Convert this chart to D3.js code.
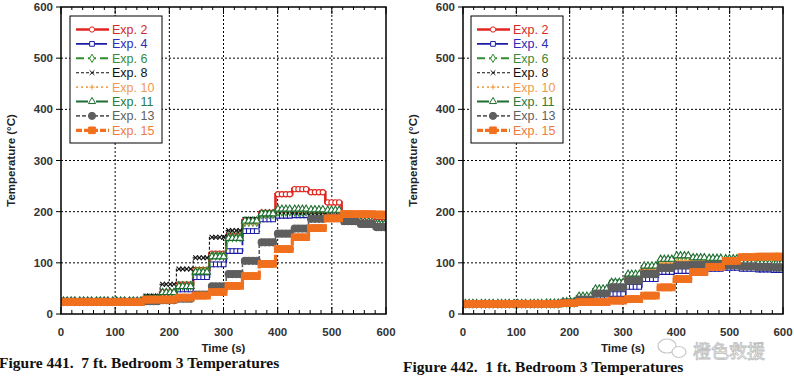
<!DOCTYPE html>
<html>
<head>
<meta charset="utf-8">
<script src="https://cdn.jsdelivr.net/npm/d3@7"></script>
<style>
  body { margin: 0; background: #fff; }
  svg { display: block; font-family: Arial, 'Liberation Sans', sans-serif; }
</style>
</head>
<body>
<svg id="chart" width="794" height="379"></svg>
<script>
// step boundaries (s) shared by every run
const stepTimes = [0, 30, 61, 91, 122, 152, 183, 213, 244, 274, 305, 335, 366, 396, 427, 457, 488, 518, 549, 579, 600];

const expLabels = ['Exp. 2', 'Exp. 4', 'Exp. 6', 'Exp. 8', 'Exp. 10', 'Exp. 11', 'Exp. 13', 'Exp. 15'];
const xTicks = [0, 100, 200, 300, 400, 500, 600];
const yTicks = [0, 100, 200, 300, 400, 500, 600];

// 7 ft. temperatures (°C), one value per step
const exp2At7 = [25, 25, 25, 25, 25, 30, 42, 58, 86, 118, 153, 183, 198, 234, 244, 238, 218, 192, 186, 180, 178];
const exp4At7 = [24, 24, 24, 24, 24, 26, 32, 48, 72, 97, 123, 162, 185, 192, 193, 192, 190, 180, 175, 170, 165];
const exp6At7 = [25, 25, 25, 25, 25, 31, 41, 55, 84, 114, 150, 180, 195, 200, 200, 198, 197, 183, 178, 172, 168];
const exp8At7 = [25, 25, 25, 25, 25, 35, 58, 88, 110, 150, 163, 185, 196, 200, 199, 198, 196, 180, 176, 170, 163];
const exp10At7 = [25, 25, 25, 25, 25, 30, 40, 57, 88, 116, 148, 178, 194, 202, 203, 202, 200, 185, 180, 175, 172];
const exp11At7 = [25, 25, 25, 25, 25, 30, 42, 54, 82, 112, 148, 182, 196, 205, 205, 204, 203, 186, 180, 175, 170];
const exp13At7 = [24, 24, 24, 24, 24, 25, 27, 30, 38, 54, 78, 104, 140, 157, 167, 186, 188, 182, 176, 170, 165];
const exp15At7 = [23, 23, 23, 23, 23, 28, 28, 32, 36, 43, 55, 74, 98, 127, 150, 168, 187, 195, 195, 194, 193];

// 1 ft. temperatures (°C)
const exp2At1 = [20, 20, 20, 20, 20, 20, 22, 30, 44, 58, 72, 86, 98, 104, 104, 103, 100, 96, 95, 94, 93];
const exp4At1 = [20, 20, 20, 20, 20, 20, 21, 25, 33, 39, 53, 68, 82, 84, 86, 88, 90, 88, 87, 86, 85];
const exp6At1 = [20, 20, 20, 20, 20, 20, 22, 30, 46, 60, 75, 90, 102, 106, 106, 105, 103, 98, 97, 96, 96];
const exp8At1 = [20, 20, 20, 20, 20, 21, 25, 33, 46, 62, 75, 86, 96, 98, 97, 96, 95, 92, 91, 90, 89];
const exp10At1 = [21, 21, 21, 21, 21, 21, 23, 31, 45, 60, 74, 88, 100, 104, 105, 104, 103, 97, 96, 95, 95];
const exp11At1 = [20, 20, 20, 20, 20, 21, 24, 35, 49, 62, 78, 94, 107, 114, 110, 109, 108, 100, 99, 98, 97];
const exp13At1 = [20, 20, 20, 20, 20, 20, 22, 28, 40, 52, 65, 78, 90, 95, 96, 96, 95, 93, 92, 91, 90];
const exp15At1 = [20, 20, 20, 20, 20, 20, 21, 23, 23, 26, 29, 36, 52, 68, 82, 92, 104, 111, 112, 112, 112];

const series7ft = [exp2At7, exp4At7, exp6At7, exp8At7, exp10At7, exp11At7, exp13At7, exp15At7];
const series1ft = [exp2At1, exp4At1, exp6At1, exp8At1, exp10At1, exp11At1, exp13At1, exp15At1];

const symX = {
  draw(ctx, size) {
    const r = Math.sqrt(size) / 2;
    ctx.moveTo(-r, -r); ctx.lineTo(r, r);
    ctx.moveTo(-r, r); ctx.lineTo(r, -r);
  },
};
const symPlus = {
  draw(ctx, size) {
    const r = Math.sqrt(size) / 2;
    ctx.moveTo(-r, 0); ctx.lineTo(r, 0);
    ctx.moveTo(0, -r); ctx.lineTo(0, r);
  },
};

const styles = [
  { color: '#e0241e', text: '#d42a2a', width: 2.6, dash: null, sym: d3.symbolCircle, size: 22, fill: '#fff' },
  { color: '#1c1ca8', text: '#2b2bb5', width: 1.8, dash: '14,3', sym: d3.symbolSquare, size: 22, fill: '#fff' },
  { color: '#2f8f2f', text: '#3a8a3a', width: 2, dash: '8,4', sym: d3.symbolDiamond, size: 20, fill: '#fff' },
  { color: '#111', text: '#111', width: 1.1, dash: '3,2', sym: symX, size: 22, fill: 'none' },
  { color: '#f3a24c', text: '#f09a50', width: 1.6, dash: '2,3', sym: symPlus, size: 28, fill: 'none' },
  { color: '#1d6e30', text: '#2a7a3a', width: 1.8, dash: '12,3,2,3', sym: d3.symbolTriangle, size: 22, fill: '#fff' },
  { color: '#5e5e5e', text: '#606060', width: 1.6, dash: '4,2', sym: d3.symbolCircle, size: 40, fill: '#5e5e5e' },
  { color: '#f0701e', text: '#f07a3c', width: 3.2, dash: '6,2', sym: d3.symbolSquare, size: 44, fill: '#f0701e' },
];

const svg = d3.select('#chart');

const drawPanel = (frame, data, caption) => {
  const x = d3.scaleLinear().domain([0, 600]).range([frame.x0, frame.x1]);
  const y = d3.scaleLinear().domain([0, 600]).range([frame.y1, frame.y0]);
  const g = svg.append('g');

  // dotted grid
  g.append('g').selectAll('line')
    .data(xTicks.slice(1, -1))
    .enter()
    .append('line')
    .attr('x1', (d) => x(d)).attr('x2', (d) => x(d))
    .attr('y1', frame.y0).attr('y2', frame.y1)
    .style('stroke', '#000').style('stroke-dasharray', '2,2').style('stroke-width', 1);
  g.append('g').selectAll('line')
    .data(yTicks.slice(1, -1))
    .enter()
    .append('line')
    .attr('y1', (d) => y(d)).attr('y2', (d) => y(d))
    .attr('x1', frame.x0).attr('x2', frame.x1)
    .style('stroke', '#000').style('stroke-dasharray', '2,2').style('stroke-width', 1);

  const clipId = `clip-${frame.x0}`;
  g.append('clipPath').attr('id', clipId)
    .append('rect')
    .attr('x', frame.x0).attr('y', frame.y0)
    .attr('width', frame.x1 - frame.x0).attr('height', frame.y1 - frame.y0);

  const plot = g.append('g').attr('clip-path', `url(#${clipId})`);
  const line = d3.line()
    .x((d) => x(d[0]))
    .y((d) => y(d[1]))
    .curve(d3.curveStepAfter);

  data.forEach((vals, i) => {
    const st = styles[i];
    const pts = stepTimes.map((t, k) => [t, vals[k]]);
    plot.append('path')
      .attr('d', line(pts))
      .style('fill', 'none')
      .style('stroke', st.color)
      .style('stroke-width', st.width)
      .style('stroke-dasharray', st.dash);

    // samples logged inside each step
    const samples = [];
    stepTimes.slice(0, -1).forEach((t, k) => {
      const span = stepTimes[k + 1] - t;
      [0.15, 0.38, 0.62, 0.85].forEach((f) => samples.push([t + span * f, vals[k]]));
    });
    plot.append('g').selectAll('path')
      .data(samples)
      .enter()
      .append('path')
      .attr('d', d3.symbol().type(st.sym).size(st.size))
      .attr('transform', (d) => `translate(${x(d[0])},${y(d[1])})`)
      .style('fill', st.fill)
      .style('stroke', st.color)
      .style('stroke-width', 1.1);
  });

  // frame + ticks
  g.append('rect')
    .attr('x', frame.x0).attr('y', frame.y0)
    .attr('width', frame.x1 - frame.x0).attr('height', frame.y1 - frame.y0)
    .style('fill', 'none').style('stroke', '#000').style('stroke-width', 1.5);

  const minor = d3.range(0, 601, 20);
  g.append('g').selectAll('line')
    .data(minor)
    .enter()
    .append('line')
    .attr('x1', (d) => x(d)).attr('x2', (d) => x(d))
    .attr('y1', frame.y1).attr('y2', (d) => frame.y1 - (d % 100 === 0 ? 7 : 4))
    .style('stroke', '#000');
  g.append('g').selectAll('line')
    .data(minor)
    .enter()
    .append('line')
    .attr('x1', (d) => x(d)).attr('x2', (d) => x(d))
    .attr('y1', frame.y0).attr('y2', (d) => frame.y0 + (d % 100 === 0 ? 7 : 3))
    .style('stroke', '#000');
  g.append('g').selectAll('line')
    .data(yTicks)
    .enter()
    .append('line')
    .attr('y1', (d) => y(d)).attr('y2', (d) => y(d))
    .attr('x1', frame.x0 - 5).attr('x2', frame.x0)
    .style('stroke', '#000');

  g.append('g').selectAll('text')
    .data(xTicks)
    .enter()
    .append('text')
    .attr('x', (d) => x(d))
    .attr('y', frame.y1 + 22)
    .style('text-anchor', 'middle')
    .style('font-size', '11.5px').style('font-weight', 700).style('fill', '#333')
    .text((d) => d);
  g.append('g').selectAll('text')
    .data(yTicks)
    .enter()
    .append('text')
    .attr('x', frame.x0 - 8)
    .attr('y', (d) => y(d) + 4)
    .style('text-anchor', 'end')
    .style('font-size', '11.5px').style('font-weight', 700).style('fill', '#333')
    .text((d) => d);

  g.append('text')
    .attr('x', (frame.x0 + frame.x1) / 2)
    .attr('y', frame.y1 + 38)
    .style('text-anchor', 'middle')
    .style('font-size', '11.5px').style('font-weight', 700).style('fill', '#222')
    .text('Time (s)');
  g.append('text')
    .attr('transform', `translate(${frame.x0 - 46},${(frame.y0 + frame.y1) / 2}) rotate(-90)`)
    .style('text-anchor', 'middle')
    .style('font-size', '11.5px').style('font-weight', 700).style('fill', '#222')
    .text('Temperature (°C)');

  g.append('text')
    .attr('x', frame.capX).attr('y', frame.capY)
    .style('font-family', "'Liberation Serif', 'Times New Roman', serif")
    .style('font-size', '15.5px').style('font-weight', 700).style('fill', '#111')
    .text(caption);

  // legend
  const legend = g.append('g').style('transform', `translate(${frame.lx}px, 16px)`);
  legend.append('rect')
    .attr('width', 92).attr('height', 127)
    .style('fill', '#fff').style('stroke', '#000').style('stroke-width', 1);
  const rows = legend.selectAll('g.row')
    .data(expLabels)
    .enter()
    .append('g')
    .attr('class', 'row')
    .style('transform', (_d, i) => `translate(0, ${13.5 + i * 14.4}px)`);
  rows.append('line')
    .attr('x1', 6).attr('x2', 39)
    .style('stroke', (_d, i) => styles[i].color)
    .style('stroke-width', (_d, i) => styles[i].width)
    .style('stroke-dasharray', (_d, i) => styles[i].dash);
  rows.append('path')
    .attr('d', (_d, i) => d3.symbol().type(styles[i].sym).size(styles[i].size)())
    .attr('transform', 'translate(22,0)')
    .style('fill', (_d, i) => styles[i].fill)
    .style('stroke', (_d, i) => styles[i].color);
  rows.append('text')
    .attr('x', 42).attr('y', 4.5)
    .style('font-size', '12.5px')
    .style('fill', (_d, i) => styles[i].text)
    .text((d) => d);
};

drawPanel({ x0: 61, x1: 386, y0: 7, y1: 314, lx: 70, capX: -1, capY: 368 },
  series7ft, 'Figure 441.\u00a0\u00a07 ft. Bedroom 3 Temperatures');
drawPanel({ x0: 463, x1: 783, y0: 7, y1: 314, lx: 471, capX: 403, capY: 372 },
  series1ft, 'Figure 442.\u00a0\u00a01 ft. Bedroom 3 Temperatures');

// watermark
const wm = svg.append('g').style('opacity', 0.55);
wm.append('ellipse').attr('cx', 667).attr('cy', 346).attr('rx', 9).attr('ry', 7)
  .style('fill', 'none').style('stroke', '#999').style('stroke-width', 1.2);
wm.append('ellipse').attr('cx', 679).attr('cy', 352).attr('rx', 7).attr('ry', 5.5)
  .style('fill', '#fff').style('stroke', '#999').style('stroke-width', 1.2);
wm.append('text')
  .attr('x', 693).attr('y', 358)
  .style('font-family', "'Noto Sans CJK SC', sans-serif")
  .style('font-size', '18px')
  .style('fill', '#fff').style('stroke', '#888').style('stroke-width', 0.8)
  .text('橙色救援');
</script>
</body>
</html>
